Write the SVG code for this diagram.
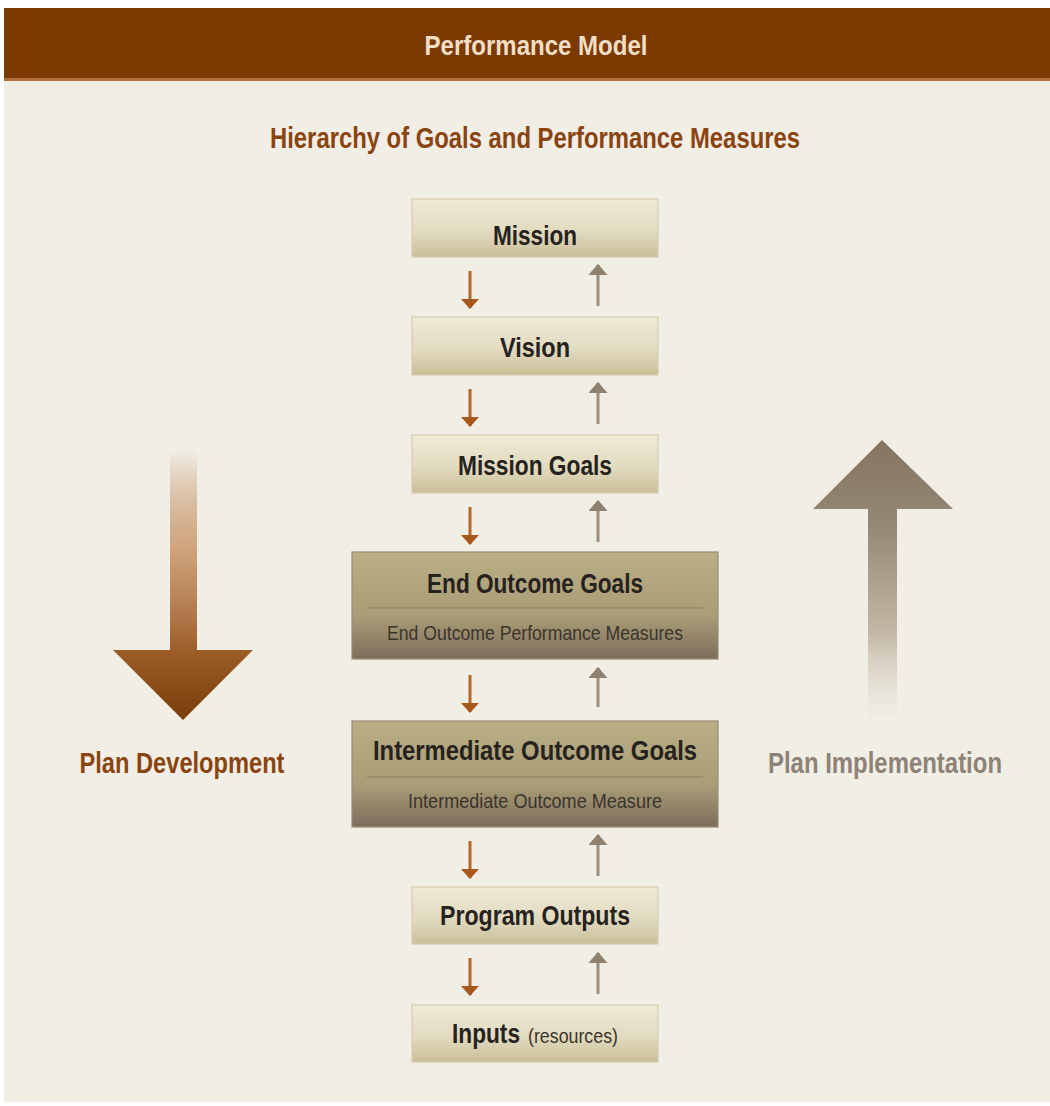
<svg xmlns="http://www.w3.org/2000/svg" width="1050" height="1106" viewBox="0 0 1050 1106">
  <defs>
    <linearGradient id="gSmall" x1="0" y1="0" x2="0" y2="1">
      <stop offset="0" stop-color="#efead6"/>
      <stop offset="0.55" stop-color="#e2dbc0"/>
      <stop offset="1" stop-color="#c9bf98"/>
    </linearGradient>
    <linearGradient id="gLarge" x1="0" y1="0" x2="0" y2="1">
      <stop offset="0" stop-color="#b9ae84"/>
      <stop offset="0.6" stop-color="#aa9d77"/>
      <stop offset="1" stop-color="#7c6d5a"/>
    </linearGradient>
    <linearGradient id="gDown" x1="0" y1="450" x2="0" y2="720" gradientUnits="userSpaceOnUse">
      <stop offset="0" stop-color="#b06a2c" stop-opacity="0"/>
      <stop offset="0.35" stop-color="#c89466" stop-opacity="0.8"/>
      <stop offset="0.75" stop-color="#9c5c28"/>
      <stop offset="1" stop-color="#7a3c08"/>
    </linearGradient>
    <linearGradient id="gUp" x1="0" y1="440" x2="0" y2="718" gradientUnits="userSpaceOnUse">
      <stop offset="0" stop-color="#847563"/>
      <stop offset="0.3" stop-color="#948773"/>
      <stop offset="0.7" stop-color="#c4b9a6"/>
      <stop offset="1" stop-color="#ece8de" stop-opacity="0.3"/>
    </linearGradient>
    <marker id="mDown" viewBox="0 0 10 10" refX="9" refY="5" markerWidth="10" markerHeight="18" markerUnits="userSpaceOnUse" orient="auto" preserveAspectRatio="none">
      <path d="M0,0 L10,5 L0,10 Z" fill="#a8581c"/>
    </marker>
    <marker id="mUp" viewBox="0 0 10 10" refX="9" refY="5" markerWidth="11" markerHeight="19" markerUnits="userSpaceOnUse" orient="auto" preserveAspectRatio="none">
      <path d="M0,0 L10,5 L0,10 Z" fill="#8e8170"/>
    </marker>
    <style>
      .cond { font-family: "Liberation Sans", Arial, sans-serif; font-weight: bold; }
      .box-s { fill: url(#gSmall); stroke: #d7ccae; stroke-width: 1.2; }
      .box-l { fill: url(#gLarge); stroke: #9a8c70; stroke-width: 1.2; }
      .lbl { fill: #26221e; font-size: 28px; text-anchor: middle; }
      .sub { fill: #3a342c; font-size: 21px; font-weight: normal; text-anchor: middle; }
      .paren { fill: #3a342c; font-size: 21px; font-weight: normal; }
      .div { stroke: #8f7f62; stroke-width: 1; }
      .dn { stroke: #b0682e; stroke-width: 3; fill: none; marker-end: url(#mDown); }
      .up { stroke: #9a8e7f; stroke-width: 3; fill: none; marker-end: url(#mUp); }
    </style>
  </defs>

  <rect x="0" y="0" width="1050" height="1106" fill="#ffffff"/>
  <rect x="4" y="8" width="1046" height="1094" fill="#f1eee6"/>

  <g id="header">
    <rect x="4" y="8" width="1046" height="72" fill="#7a3a02"/>
    <rect x="4" y="78" width="1046" height="3" fill="#b06e3e"/>
    <text class="cond" x="536" y="55" font-size="28" fill="#f2dec4" text-anchor="middle" textLength="223" lengthAdjust="spacingAndGlyphs">Performance Model</text>
  </g>

  <g id="title">
    <text class="cond" x="535" y="148" font-size="29" fill="#8a4410" text-anchor="middle" textLength="530" lengthAdjust="spacingAndGlyphs">Hierarchy of Goals and Performance Measures</text>
  </g>

  <g id="plan-development">
    <path d="M170,450 L197,450 L197,650 L253,650 L183,720 L113,650 L170,650 Z" fill="url(#gDown)"/>
    <text class="cond" x="182" y="773" font-size="29" fill="#8a4410" text-anchor="middle" textLength="205" lengthAdjust="spacingAndGlyphs">Plan Development</text>
  </g>

  <g id="plan-implementation">
    <path d="M882,440 L953,509 L897,509 L897,718 L868,718 L868,509 L813,509 Z" fill="url(#gUp)"/>
    <text class="cond" x="885" y="773" font-size="29" fill="#8d8275" text-anchor="middle" textLength="234" lengthAdjust="spacingAndGlyphs">Plan Implementation</text>
  </g>

  <g id="mission">
    <rect class="box-s" x="412" y="199" width="246" height="58"/>
    <text class="cond lbl" x="535" y="245" textLength="84" lengthAdjust="spacingAndGlyphs">Mission</text>
  </g>
  <g id="vision">
    <rect class="box-s" x="412" y="317" width="246" height="58"/>
    <text class="cond lbl" x="535" y="357" textLength="70" lengthAdjust="spacingAndGlyphs">Vision</text>
  </g>
  <g id="mission-goals">
    <rect class="box-s" x="412" y="435" width="246" height="58"/>
    <text class="cond lbl" x="535" y="475" textLength="154" lengthAdjust="spacingAndGlyphs">Mission Goals</text>
  </g>
  <g id="end-outcome-goals">
    <rect class="box-l" x="352" y="552" width="366" height="107"/>
    <text class="cond lbl" x="535" y="593" font-size="30" textLength="216" lengthAdjust="spacingAndGlyphs">End Outcome Goals</text>
    <line class="div" x1="367" y1="608" x2="703" y2="608"/>
    <text class="cond sub" x="535" y="640" textLength="296" lengthAdjust="spacingAndGlyphs">End Outcome Performance Measures</text>
  </g>
  <g id="intermediate-outcome-goals">
    <rect class="box-l" x="352" y="721" width="366" height="106"/>
    <text class="cond lbl" x="535" y="760" font-size="30" textLength="324" lengthAdjust="spacingAndGlyphs">Intermediate Outcome Goals</text>
    <line class="div" x1="367" y1="777" x2="703" y2="777"/>
    <text class="cond sub" x="535" y="808" textLength="254" lengthAdjust="spacingAndGlyphs">Intermediate Outcome Measure</text>
  </g>
  <g id="program-outputs">
    <rect class="box-s" x="412" y="887" width="246" height="57"/>
    <text class="cond lbl" x="535" y="925" textLength="190" lengthAdjust="spacingAndGlyphs">Program Outputs</text>
  </g>
  <g id="inputs">
    <rect class="box-s" x="412" y="1005" width="246" height="57"/>
    <text class="cond" x="452" y="1043" font-size="28" fill="#26221e" textLength="68" lengthAdjust="spacingAndGlyphs">Inputs</text>
    <text class="cond paren" x="528" y="1043" textLength="90" lengthAdjust="spacingAndGlyphs">(resources)</text>
  </g>

  <g id="connectors">
    <line class="dn" x1="470" y1="271" x2="470" y2="308"/>
    <line class="up" x1="598" y1="306" x2="598" y2="265"/>
    <line class="dn" x1="470" y1="389" x2="470" y2="426"/>
    <line class="up" x1="598" y1="424" x2="598" y2="383"/>
    <line class="dn" x1="470" y1="507" x2="470" y2="544"/>
    <line class="up" x1="598" y1="542" x2="598" y2="501"/>
    <line class="dn" x1="470" y1="675" x2="470" y2="712"/>
    <line class="up" x1="598" y1="707" x2="598" y2="668"/>
    <line class="dn" x1="470" y1="841" x2="470" y2="878"/>
    <line class="up" x1="598" y1="876" x2="598" y2="835"/>
    <line class="dn" x1="470" y1="958" x2="470" y2="995"/>
    <line class="up" x1="598" y1="994" x2="598" y2="953"/>
  </g>
</svg>
